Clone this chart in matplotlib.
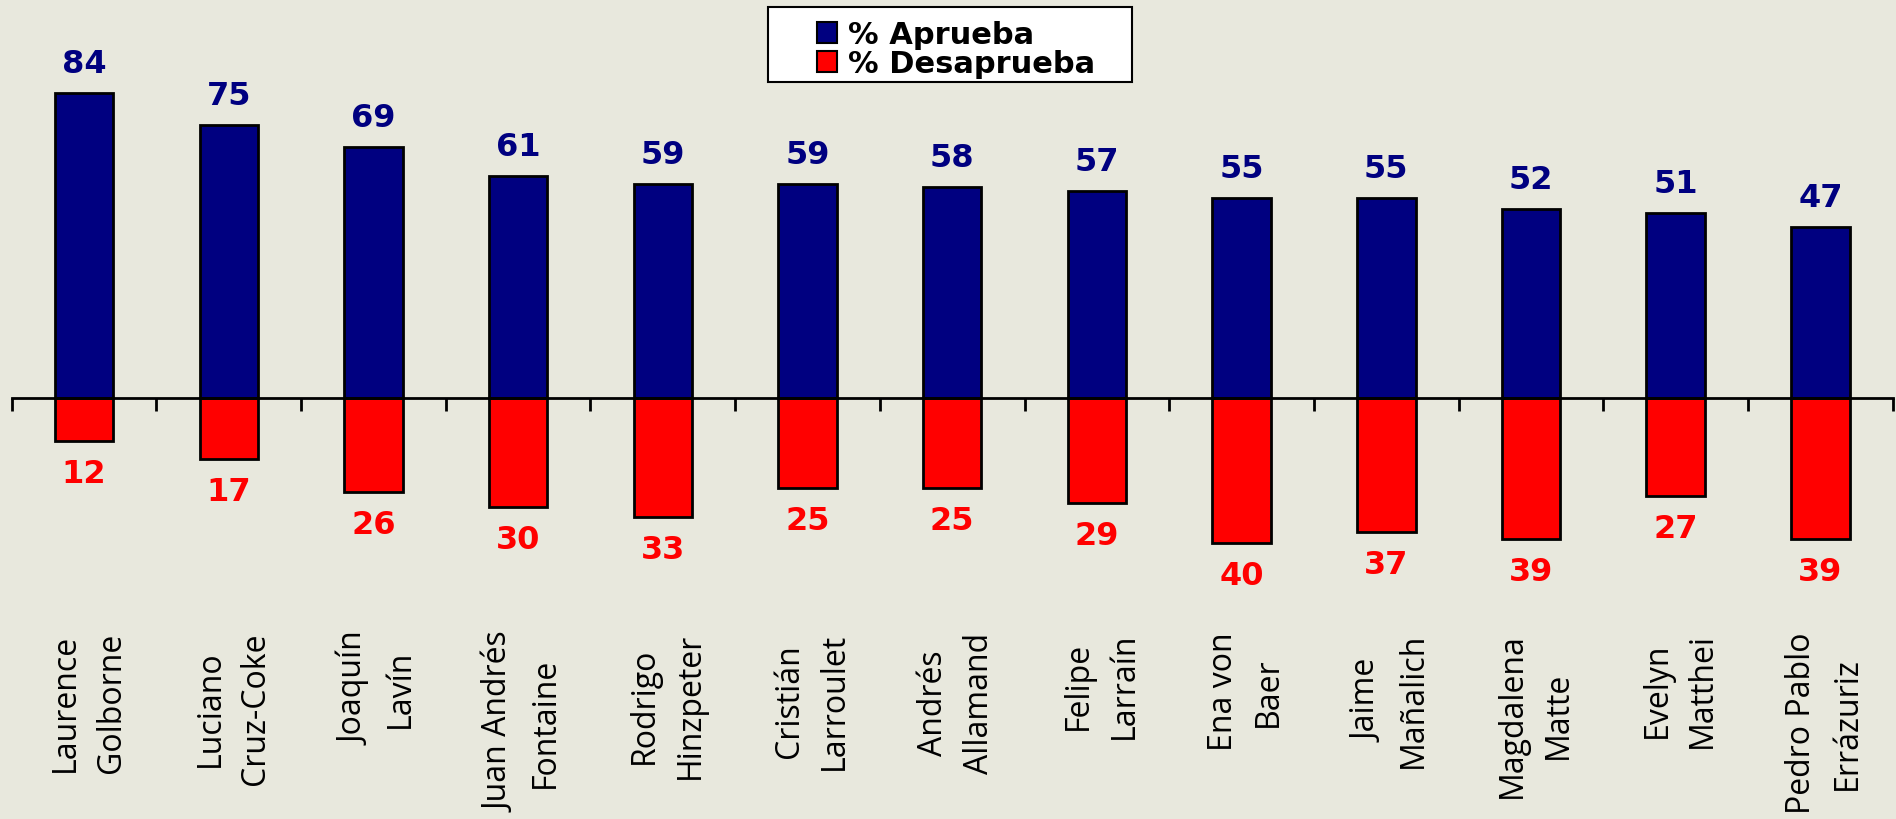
import matplotlib
matplotlib.use("Agg")
import matplotlib.pyplot as plt
from matplotlib.patches import Patch, Rectangle
import numpy as np

nombres = ["Laurence\nGolborne", "Luciano\nCruz-Coke", "Joaquín\nLavín",
           "Juan Andrés\nFontaine", "Rodrigo\nHinzpeter", "Cristián\nLarroulet",
           "Andrés\nAllamand", "Felipe\nLarraín", "Ena von\nBaer",
           "Jaime\nMañalich", "Magdalena\nMatte", "Evelyn\nMatthei",
           "Pedro Pablo\nErrázuriz"]
aprueba = [84, 75, 69, 61, 59, 59, 58, 57, 55, 55, 52, 51, 47]
desaprueba = [12, 17, 26, 30, 33, 25, 25, 29, 40, 37, 39, 27, 39]

W, H = 1896, 820
fondo = "#E8E8DD"
azul = "#000080"
rojo = "#FF0000"

fig = plt.figure(figsize=(W / 100, H / 100), dpi=100, facecolor=fondo)
ax = fig.add_axes([11.7 / W, 0, 1881 / W, 1])
ax.set_facecolor("none")

x = np.arange(len(nombres))
ancho = 0.404
ax.bar(x, aprueba, ancho, color=azul, edgecolor="black", linewidth=2, zorder=3)
ax.bar(x, [-d for d in desaprueba], ancho, color=rojo, edgecolor="black", linewidth=2, zorder=3)

ax.set_xlim(-0.5, len(nombres) - 0.5)
ax.set_ylim(-(H - 398.7) / 3.63, 398.7 / 3.63)

# etiquetas de valores
for xi, v in zip(x, aprueba):
    ax.annotate(str(v), (xi, v), xytext=(0, 14), textcoords="offset pixels",
                ha="center", va="bottom", fontsize=23, fontweight="bold",
                color=azul, family="DejaVu Sans")
for xi, v in zip(x, desaprueba):
    ax.annotate(str(v), (xi, -v), xytext=(0, -17), textcoords="offset pixels",
                ha="center", va="top", fontsize=23, fontweight="bold",
                color=rojo, family="DejaVu Sans")

# eje en cero con marcas entre categorias
for s in ["left", "right", "top"]:
    ax.spines[s].set_visible(False)
ax.spines["bottom"].set_position(("data", 0))
ax.spines["bottom"].set_linewidth(2)
ax.spines["bottom"].set_zorder(4)
ax.set_xticks(np.arange(-0.5, len(nombres), 1))
ax.set_xticklabels([])
ax.tick_params(axis="x", direction="out", length=9, width=2)
ax.set_yticks([])

# nombres rotados
for xi, n in zip(x, nombres):
    ax.text(xi + 0.03, 1 - 632.7 / H, n, transform=ax.get_xaxis_transform(),
            rotation=90, ha="center", va="top", multialignment="center",
            fontsize=23, family="Open Sans", linespacing=1.5, color="black")

# leyenda
fig.patches.append(Rectangle((768 / W, 1 - 83 / H), 364 / W, 75 / H,
                             transform=fig.transFigure, facecolor="white",
                             edgecolor="black", linewidth=1.5, zorder=1))
manejadores = [Patch(facecolor=azul, edgecolor="black", linewidth=1.5),
               Patch(facecolor=rojo, edgecolor="black", linewidth=1.5)]
fig.legend(manejadores, ["% Aprueba", "% Desaprueba"], loc="center",
           bbox_to_anchor=(956 / W, 1 - 50 / H), frameon=False,
           prop={"family": "DejaVu Sans", "weight": "bold", "size": 22},
           handlelength=0.68, handleheight=0.68, handletextpad=0.35,
           labelspacing=0.0, borderpad=0.1)

fig.savefig("out.png", dpi=100, facecolor=fondo)
